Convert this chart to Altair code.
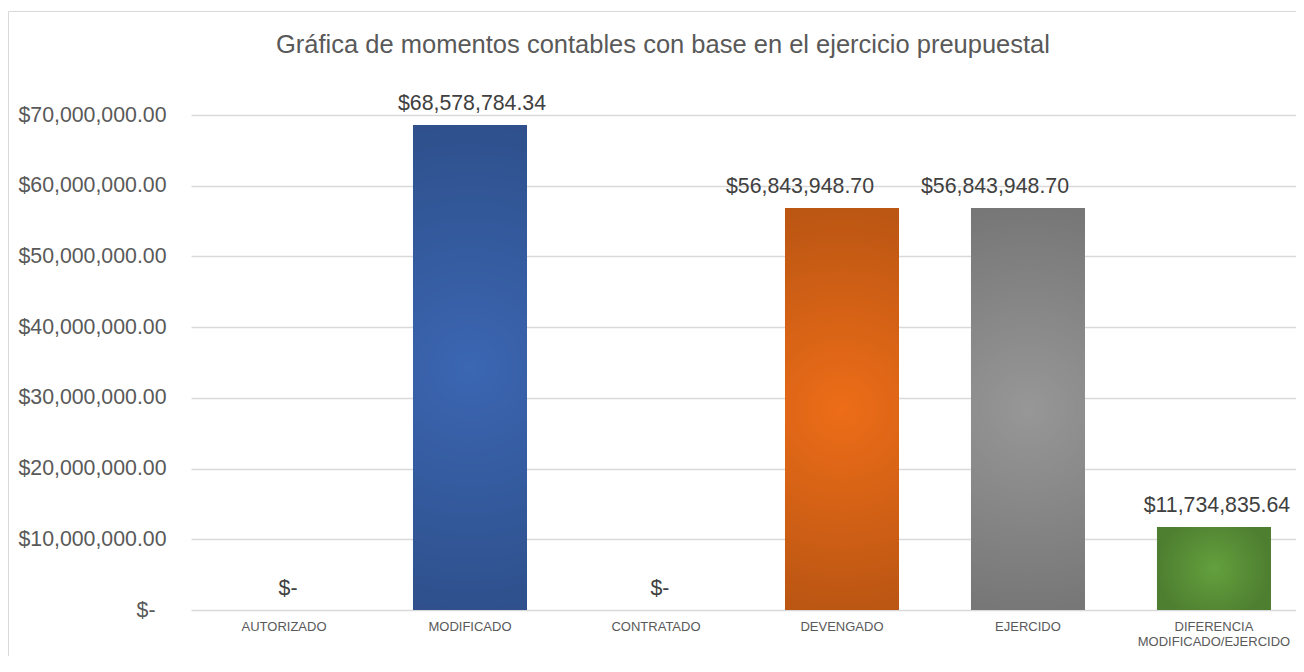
import altair as alt
import pandas as pd

# ---- data ----
CATEGORIES = [
    "AUTORIZADO",
    "MODIFICADO",
    "CONTRATADO",
    "DEVENGADO",
    "EJERCIDO",
    "DIFERENCIA MODIFICADO/EJERCIDO",
]
VALUES = [0.0, 68578784.34, 0.0, 56843948.70, 56843948.70, 11734835.64]
Y_MAX = 70000000
TITLE = "Gráfica de momentos contables con base en el ejercicio preupuestal"

# ---- style ----
FONT = "Liberation Sans, Arial, sans-serif"
BAR_COLORS = ["#4472c4", "#3b66b2", "#a5a5a5", "#ed6d18", "#979797", "#63a03d"]
LABEL_DX = [4, 2, 4, -42, -33, 3]
TEXT_GREY = "#595959"
GRID = "#d9d9d9"

df = pd.DataFrame({"categoria": CATEGORIES, "monto": VALUES})

X = alt.X(
    "categoria:N",
    scale=alt.Scale(domain=CATEGORIES, paddingInner=0.387, paddingOuter=0.164, align=0.59),
    axis=alt.Axis(
        title=None,
        labelAngle=0,
        labelExpr="split(datum.label, ' ')",
        labelFont=FONT,
        labelFontSize=13,
        labelColor=TEXT_GREY,
        labelPadding=10,
        labelLineHeight=15,
        ticks=False,
        tickSize=0,
        domain=False,
        grid=False,
    ),
)
Y = alt.Y(
    "monto:Q",
    scale=alt.Scale(domain=[0, Y_MAX], nice=False),
    axis=alt.Axis(
        title=None,
        tickCount=8,
        labelExpr="datum.value == 0 ? '$-' : '$' + format(datum.value, ',.2f')",
        labelFont=FONT,
        labelFontSize=21.3,
        labelColor=TEXT_GREY,
        labelPadding={"condition": {"test": "datum.value == 0", "value": 36}, "value": 25},
        ticks=False,
        tickSize=0,
        domain=False,
        grid=True,
        gridColor=GRID,
        gridWidth=1.3,
    ),
)

base = alt.Chart(df)

bars = base.mark_bar().encode(
    x=X,
    y=Y,
    color=alt.Color(
        "categoria:N",
        scale=alt.Scale(domain=CATEGORIES, range=BAR_COLORS),
        legend=None,
    ),
)

shade = alt.Gradient(
    gradient="radial",
    stops=[
        alt.GradientStop(color="rgba(0,0,0,0)", offset=0),
        alt.GradientStop(color="rgba(0,0,0,0.21)", offset=1),
    ],
    x1=0.5, y1=0.5, r1=0, x2=0.5, y2=0.5, r2=0.5,
)
overlay = base.mark_bar(fill=shade).encode(x=X, y=Y)

label_layers = []
for cat, dx in zip(CATEGORIES, LABEL_DX):
    label_layers.append(
        base.transform_filter(alt.datum.categoria == cat)
        .transform_calculate(
            etiqueta="datum.monto == 0 ? '$-' : '$' + format(datum.monto, ',.2f')"
        )
        .mark_text(
            font=FONT, fontSize=21.3, color="#404040",
            baseline="alphabetic", align="center", dy=-15, dx=dx,
        )
        .encode(x=X, y=Y, text="etiqueta:N")
    )

title = alt.Chart(pd.DataFrame({"t": [TITLE]})).mark_text(
    font=FONT, fontSize=25.5, color=TEXT_GREY, align="center", baseline="alphabetic"
).encode(text="t:N", x=alt.value(472), y=alt.value(-62))

border = alt.Chart(pd.DataFrame({"b": [0]})).mark_rect(
    filled=False, stroke=GRID, strokeWidth=1
).encode(
    x=alt.value(-182.5), x2=alt.value(3000), y=alt.value(-103.5), y2=alt.value(3000)
)

chart = alt.layer(border, bars, overlay, *label_layers, title).properties(
    width=1105,
    height=495,
    autosize=alt.AutoSizeParams(type="none"),
    padding={"left": 183, "top": 107, "right": 0, "bottom": 46},
    background="white",
).configure_view(stroke=None)

chart.save("out.html", embed_options={"renderer": "svg", "actions": False})
